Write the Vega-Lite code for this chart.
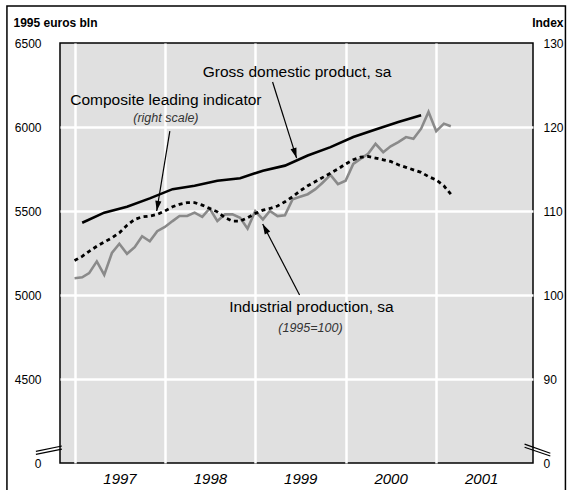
{
  "$schema": "https://vega.github.io/schema/vega-lite/v6.json",
  "width": 473,
  "height": 420,
  "autosize": "none",
  "padding": {"left": 60, "top": 43, "right": 37, "bottom": 27},
  "background": "white",
  "config": {
    "font": "Liberation Sans",
    "view": {"fill": "#e0e0e0", "stroke": "black", "strokeWidth": 1.5},
    "axis": {"ticks": false, "domain": false, "labelFont": "Liberation Sans", "titleFont": "Liberation Sans", "labelColor": "black", "titleColor": "black", "labelFlush": false, "labelOverlap": false}
  },
  "datasets": {
    "gdp": [
      {"date": "1997/02/01", "value": 5430}, {"date": "1997/05/01", "value": 5490},
      {"date": "1997/08/01", "value": 5525}, {"date": "1997/11/01", "value": 5575},
      {"date": "1998/02/01", "value": 5630}, {"date": "1998/05/01", "value": 5650},
      {"date": "1998/08/01", "value": 5680}, {"date": "1998/11/01", "value": 5695},
      {"date": "1999/02/01", "value": 5740}, {"date": "1999/05/01", "value": 5770},
      {"date": "1999/08/01", "value": 5830}, {"date": "1999/11/01", "value": 5880},
      {"date": "2000/02/01", "value": 5940}, {"date": "2000/05/01", "value": 5985},
      {"date": "2000/08/01", "value": 6030}, {"date": "2000/11/01", "value": 6070}
    ],
    "monthly": [
      {"date": "1997/01/01", "cli": 104.1, "ip": 102.0},
      {"date": "1997/02/01", "cli": 104.6, "ip": 102.1},
      {"date": "1997/03/01", "cli": 105.2, "ip": 102.6},
      {"date": "1997/04/01", "cli": 105.8, "ip": 104.0},
      {"date": "1997/05/01", "cli": 106.3, "ip": 102.4},
      {"date": "1997/06/01", "cli": 106.8, "ip": 105.0},
      {"date": "1997/07/01", "cli": 107.4, "ip": 106.1},
      {"date": "1997/08/01", "cli": 108.3, "ip": 104.9},
      {"date": "1997/09/01", "cli": 109.0, "ip": 105.7},
      {"date": "1997/10/01", "cli": 109.3, "ip": 107.0},
      {"date": "1997/11/01", "cli": 109.4, "ip": 106.4},
      {"date": "1997/12/01", "cli": 109.6, "ip": 107.6},
      {"date": "1998/01/01", "cli": 110.0, "ip": 108.1},
      {"date": "1998/02/01", "cli": 110.5, "ip": 108.8},
      {"date": "1998/03/01", "cli": 110.8, "ip": 109.4},
      {"date": "1998/04/01", "cli": 111.0, "ip": 109.4},
      {"date": "1998/05/01", "cli": 111.0, "ip": 109.8},
      {"date": "1998/06/01", "cli": 110.7, "ip": 109.3},
      {"date": "1998/07/01", "cli": 110.3, "ip": 110.3},
      {"date": "1998/08/01", "cli": 109.9, "ip": 108.8},
      {"date": "1998/09/01", "cli": 109.2, "ip": 109.6},
      {"date": "1998/10/01", "cli": 108.8, "ip": 109.6},
      {"date": "1998/11/01", "cli": 108.8, "ip": 109.2},
      {"date": "1998/12/01", "cli": 109.2, "ip": 107.9},
      {"date": "1999/01/01", "cli": 109.7, "ip": 110.0},
      {"date": "1999/02/01", "cli": 110.1, "ip": 109.0},
      {"date": "1999/03/01", "cli": 110.3, "ip": 110.0},
      {"date": "1999/04/01", "cli": 110.6, "ip": 109.4},
      {"date": "1999/05/01", "cli": 111.1, "ip": 109.5},
      {"date": "1999/06/01", "cli": 111.7, "ip": 111.4},
      {"date": "1999/07/01", "cli": 112.4, "ip": 111.7},
      {"date": "1999/08/01", "cli": 113.0, "ip": 112.0},
      {"date": "1999/09/01", "cli": 113.5, "ip": 112.6},
      {"date": "1999/10/01", "cli": 114.0, "ip": 113.4},
      {"date": "1999/11/01", "cli": 114.5, "ip": 114.3},
      {"date": "1999/12/01", "cli": 115.0, "ip": 113.2},
      {"date": "2000/01/01", "cli": 115.6, "ip": 113.6},
      {"date": "2000/02/01", "cli": 116.1, "ip": 115.6},
      {"date": "2000/03/01", "cli": 116.4, "ip": 116.2},
      {"date": "2000/04/01", "cli": 116.5, "ip": 116.8},
      {"date": "2000/05/01", "cli": 116.3, "ip": 118.0},
      {"date": "2000/06/01", "cli": 116.1, "ip": 117.0},
      {"date": "2000/07/01", "cli": 115.9, "ip": 117.7},
      {"date": "2000/08/01", "cli": 115.5, "ip": 118.2},
      {"date": "2000/09/01", "cli": 115.2, "ip": 118.8},
      {"date": "2000/10/01", "cli": 114.9, "ip": 118.6},
      {"date": "2000/11/01", "cli": 114.6, "ip": 119.8},
      {"date": "2000/12/01", "cli": 114.1, "ip": 121.8},
      {"date": "2001/01/01", "cli": 113.7, "ip": 119.5},
      {"date": "2001/02/01", "cli": 113.0, "ip": 120.4},
      {"date": "2001/03/01", "cli": 112.0, "ip": 120.1}
    ],
    "labels": [
      {"date": "1999/06/19", "value": 6327, "text": "Gross domestic product, sa"},
      {"date": "1998/01/05", "value": 6161, "text": "Composite leading indicator"},
      {"date": "1999/08/16", "value": 4929, "text": "Industrial production, sa"}
    ],
    "notes": [
      {"date": "1998/01/05", "value": 6054, "text": "(right scale)"},
      {"date": "1999/08/12", "value": 4804, "text": "(1995=100)"}
    ],
    "arrows": [
      {"name": "gdp", "date": "1999/03/12", "value": 6268, "date2": "1999/06/17", "value2": 5815},
      {"name": "cli", "date": "1998/01/21", "value": 5976, "date2": "1997/11/29", "value2": 5500},
      {"name": "ip", "date": "1999/06/29", "value": 5000, "date2": "1999/01/31", "value2": 5423}
    ],
    "breaks": [
      {"date": "1996/07/29", "value": 4069, "date2": "1996/11/11", "value2": 4101},
      {"date": "1996/07/29", "value": 4051, "date2": "1996/11/11", "value2": 4083},
      {"date": "2001/12/24", "value": 4112, "date2": "2002/04/07", "value2": 4058},
      {"date": "2001/12/24", "value": 4094, "date2": "2002/04/07", "value2": 4042}
    ]
  },
  "layer": [
    {
      "layer": [
        {
          "data": {"name": "gdp"},
          "mark": {"type": "line", "color": "black", "strokeWidth": 2.6},
          "encoding": {
            "x": {
              "field": "date", "type": "temporal",
              "scale": {"domain": [{"year": 1996, "month": 11, "date": 3, "hours": 8}, {"year": 2002, "month": 1, "date": 27}], "nice": false},
              "axis": {
                "title": null,
                "values": [{"year": 1997, "month": 1, "date": 1}, {"year": 1998, "month": 1, "date": 1}, {"year": 1999, "month": 1, "date": 1}, {"year": 2000, "month": 1, "date": 1}, {"year": 2001, "month": 1, "date": 1}],
                "format": "%Y",
                "labelOffset": 45,
                "labelPadding": 8,
                "labelFontSize": 15,
                "labelFontStyle": "italic",
                "grid": true,
                "gridColor": "white",
                "gridWidth": 2.5,
                "gridOpacity": 1
              }
            },
            "y": {
              "field": "value", "type": "quantitative",
              "scale": {"domain": [4000, 6500], "nice": false, "zero": false},
              "axis": {
                "orient": "left",
                "values": [4000, 4500, 5000, 5500, 6000, 6500],
                "labelExpr": "datum.value == 4000 ? '0' : datum.label",
                "format": "d",
                "labelPadding": 19,
                "labelFontSize": 12,
                "grid": true,
                "gridColor": {"condition": {"test": "datum.value == 4000 || datum.value == 6500", "value": "transparent"}, "value": "white"},
                "gridWidth": 2.5,
                "gridOpacity": 1,
                "title": "1995 euros bln",
                "titleAngle": 0,
                "titleAlign": "left",
                "titleBaseline": "middle",
                "titleX": -47,
                "titleY": -21,
                "titleFontSize": 12,
                "titleFontWeight": "bold"
              }
            }
          }
        },
        {
          "data": {"name": "arrows"},
          "mark": {"type": "rule", "color": "black", "strokeWidth": 1.2},
          "encoding": {
            "x": {"field": "date", "type": "temporal"},
            "x2": {"field": "date2"},
            "y": {"field": "value", "type": "quantitative"},
            "y2": {"field": "value2"}
          }
        },
        {
          "data": {"name": "arrows"},
          "transform": [{"filter": "datum.name == 'gdp'"}],
          "mark": {"type": "point", "shape": "M0,0L-0.3,-1L0.3,-1Z", "filled": true, "size": 420, "angle": -17.5, "color": "black", "opacity": 1, "strokeWidth": 0},
          "encoding": {"x": {"field": "date2", "type": "temporal"}, "y": {"field": "value2", "type": "quantitative"}}
        },
        {
          "data": {"name": "arrows"},
          "transform": [{"filter": "datum.name == 'cli'"}],
          "mark": {"type": "point", "shape": "M0,0L-0.3,-1L0.3,-1Z", "filled": true, "size": 420, "angle": 9.3, "color": "black", "opacity": 1, "strokeWidth": 0},
          "encoding": {"x": {"field": "date2", "type": "temporal"}, "y": {"field": "value2", "type": "quantitative"}}
        },
        {
          "data": {"name": "arrows"},
          "transform": [{"filter": "datum.name == 'ip'"}],
          "mark": {"type": "point", "shape": "M0,0L-0.3,-1L0.3,-1Z", "filled": true, "size": 420, "angle": 152, "color": "black", "opacity": 1, "strokeWidth": 0},
          "encoding": {"x": {"field": "date2", "type": "temporal"}, "y": {"field": "value2", "type": "quantitative"}}
        },
        {
          "data": {"name": "labels"},
          "mark": {"type": "text", "fontSize": 15.5, "align": "center", "baseline": "middle", "color": "black"},
          "encoding": {
            "x": {"field": "date", "type": "temporal"},
            "y": {"field": "value", "type": "quantitative"},
            "text": {"field": "text"}
          }
        },
        {
          "data": {"name": "notes"},
          "mark": {"type": "text", "fontSize": 12.5, "fontStyle": "italic", "align": "center", "baseline": "middle", "color": "#333333"},
          "encoding": {
            "x": {"field": "date", "type": "temporal"},
            "y": {"field": "value", "type": "quantitative"},
            "text": {"field": "text"}
          }
        },
        {
          "data": {"name": "breaks"},
          "mark": {"type": "rule", "color": "black", "strokeWidth": 1.2},
          "encoding": {
            "x": {"field": "date", "type": "temporal"},
            "x2": {"field": "date2"},
            "y": {"field": "value", "type": "quantitative"},
            "y2": {"field": "value2"}
          }
        },
        {
          "data": {"values": [{}]},
          "mark": {"type": "rect", "fill": null, "fillOpacity": 0, "stroke": "black", "strokeWidth": 1.5},
          "encoding": {
            "x": {"datum": {"year": 1996, "month": 4, "date": 3}, "type": "temporal"},
            "x2": {"datum": {"year": 2002, "month": 6, "date": 7}},
            "y": {"datum": 6720, "type": "quantitative"},
            "y2": {"datum": 3780}
          }
        }
      ]
    },
    {
      "data": {"name": "monthly"},
      "layer": [
        {
          "mark": {"type": "line", "color": "#8a8a8a", "strokeWidth": 2.6},
          "encoding": {
            "x": {"field": "date", "type": "temporal"},
            "y": {
              "field": "ip", "type": "quantitative",
              "scale": {"domain": [80, 130], "nice": false, "zero": false},
              "axis": {
                "orient": "right",
                "values": [80, 90, 100, 110, 120, 130],
                "labelExpr": "datum.value == 80 ? '0' : datum.label",
                "grid": false,
                "labelPadding": 10,
                "labelFontSize": 12,
                "title": "Index",
                "titleAngle": 0,
                "titleAlign": "right",
                "titleBaseline": "middle",
                "titleX": 30,
                "titleY": -21,
                "titleFontSize": 12,
                "titleFontWeight": "bold"
              }
            }
          }
        },
        {
          "mark": {"type": "line", "color": "black", "strokeWidth": 2.8, "strokeDash": [4, 3.5]},
          "encoding": {
            "x": {"field": "date", "type": "temporal"},
            "y": {"field": "cli", "type": "quantitative"}
          }
        }
      ]
    }
  ],
  "resolve": {"scale": {"y": "independent"}, "axis": {"y": "independent"}}
}
